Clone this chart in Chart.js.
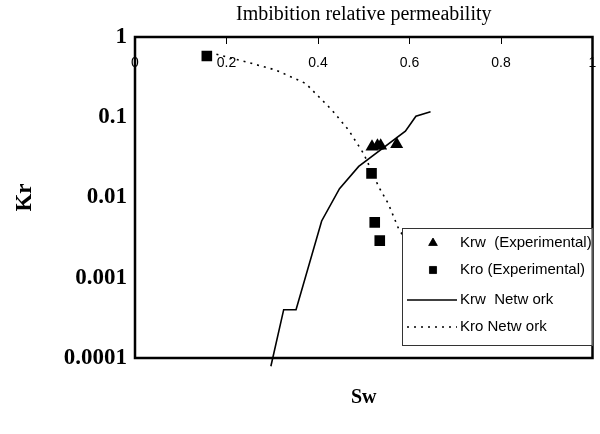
<!DOCTYPE html>
<html>
<head>
<meta charset="utf-8">
<script src="https://cdn.jsdelivr.net/npm/chart.js@4.4.1/dist/chart.umd.min.js"></script>
<style>
    html, body { margin: 0; padding: 0; background: #fff; }
    #wrap { width: 600px; height: 434px; }
</style>
</head>
<body>
<div id="wrap"><canvas id="chart"></canvas></div>
<script>
// values
const krwExpSw = [0.518, 0.530, 0.537, 0.572];
const krwExpKr = [0.043, 0.044, 0.044, 0.046];

const kroExpSw = [0.157, 0.517, 0.524, 0.535];
const kroExpKr = [0.58, 0.020, 0.0049, 0.0029];

const krwNetSw = [0.297, 0.325, 0.352, 0.408, 0.447, 0.489, 0.591, 0.614, 0.646];
const krwNetKr = [0.000079, 0.0004, 0.0004, 0.0051, 0.0129, 0.0244, 0.067, 0.103, 0.117];

const kroNetSw = [0.178, 0.243, 0.308, 0.373, 0.431, 0.467, 0.500, 0.533, 0.554, 0.576, 0.600];
const kroNetKr = [0.61, 0.49, 0.387, 0.264, 0.122, 0.069, 0.035, 0.0135, 0.0083, 0.0041, 0.0025];

const xTicks = [0, 0.2, 0.4, 0.6, 0.8, 1];
const yTicks = [0.0001, 0.001, 0.01, 0.1, 1];

const legendLabels = ['Krw  (Experimental)', 'Kro (Experimental)', 'Krw  Netw ork', 'Kro Netw ork'];

const serif = '"Liberation Serif", "Times New Roman", serif';
const sans = '"Liberation Sans", Arial, sans-serif';

function pts(xs, ys) {
    return xs.map((x, i) => ({ x: x, y: ys[i] }));
}

// frame round the plot area
const framePlugin = {
    id: 'frame',
    afterDatasetsDraw(chart) {
        const a = chart.chartArea;
        const ctx = chart.ctx;
        ctx.save();
        ctx.strokeStyle = '#000';
        ctx.lineWidth = 2.5;
        ctx.strokeRect(a.left, a.top, a.right - a.left, a.bottom - a.top);
        ctx.restore();
    }
};

// boxed legend in the lower right of the plot
const boxLegend = {
    id: 'boxLegend',
    afterDraw(chart) {
        const ctx = chart.ctx;
        const a = chart.chartArea;
        const left = 402, top = 228, right = a.right, bottom = 346;
        ctx.save();
        ctx.fillStyle = '#fff';
        ctx.fillRect(left, top, right - left, bottom - top);
        ctx.strokeStyle = '#333';
        ctx.lineWidth = 1;
        ctx.strokeRect(left + 0.5, top + 0.5, right - left - 1, bottom - top - 1);

        const rows = [243, 270, 300, 327];
        ctx.font = '15px ' + sans;
        ctx.textBaseline = 'middle';
        ctx.fillStyle = '#000';
        chart.data.datasets.forEach((ds, i) => {
            const y = rows[i];
            if (ds.showLine) {
                ctx.beginPath();
                ctx.strokeStyle = '#000';
                ctx.lineWidth = ds.borderWidth;
                ctx.setLineDash(ds.borderDash || []);
                ctx.moveTo(407, y);
                ctx.lineTo(457, y);
                ctx.stroke();
                ctx.setLineDash([]);
            } else {
                Chart.helpers.drawPoint(ctx, { pointStyle: ds.pointStyle, radius: 5, borderWidth: 1, rotation: 0 }, 433, y);
                ctx.fill();
            }
            ctx.fillStyle = '#000';
            ctx.fillText(legendLabels[i], 460, y);
        });
        ctx.restore();
    }
};

const ctx = document.getElementById('chart').getContext('2d');

new Chart(ctx, {
    type: 'scatter',
    data: {
        datasets: [{
            label: legendLabels[0],
            data: pts(krwExpSw, krwExpKr),
            pointStyle: 'triangle',
            pointRadius: 7.5,
            backgroundColor: '#000',
            borderColor: '#000',
            borderWidth: 0,
            showLine: false
        }, {
            label: legendLabels[1],
            data: pts(kroExpSw, kroExpKr),
            pointStyle: 'rect',
            pointRadius: 7.5,
            backgroundColor: '#000',
            borderColor: '#000',
            borderWidth: 0,
            showLine: false
        }, {
            label: legendLabels[2],
            data: pts(krwNetSw, krwNetKr),
            showLine: true,
            pointRadius: 0,
            borderColor: '#000',
            borderWidth: 1.6,
            clip: false
        }, {
            label: legendLabels[3],
            data: pts(kroNetSw, kroNetKr),
            showLine: true,
            pointRadius: 0,
            borderColor: '#000',
            borderWidth: 1.6,
            borderDash: [2, 5]
        }]
    },
    options: {
        responsive: true,
        maintainAspectRatio: false,
        animation: false,
        layout: { padding: { left: 10, right: 2, top: 0, bottom: 0 } },
        plugins: {
            legend: { display: false },
            tooltip: { enabled: false },
            title: {
                display: true,
                fullSize: false,
                text: 'Imbibition relative permeability',
                color: '#000',
                font: { family: serif, size: 20, weight: 'normal' },
                padding: { top: 3, bottom: 9 }
            },
            subtitle: {
                display: true,
                fullSize: false,
                position: 'bottom',
                text: 'Sw',
                color: '#000',
                font: { family: serif, size: 20, weight: 'bold' },
                padding: { top: 28, bottom: 24 }
            }
        },
        scales: {
            x: {
                type: 'linear',
                position: 'top',
                min: 0,
                max: 1,
                afterBuildTicks: scale => { scale.ticks = xTicks.map(v => ({ value: v })); },
                afterFit: scale => {
                    scale.height = 1;
                    scale.paddingLeft = 0;
                    scale.paddingRight = 0;
                },
                ticks: {
                    mirror: true,
                    padding: 18,
                    color: '#000',
                    font: { family: sans, size: 14 },
                    callback: v => String(v)
                },
                grid: { drawOnChartArea: false, tickLength: -7, color: '#000', lineWidth: 1 },
                border: { display: false }
            },
            y: {
                type: 'logarithmic',
                min: 0.0001,
                max: 1,
                afterBuildTicks: scale => { scale.ticks = yTicks.map(v => ({ value: v })); },
                afterFit: scale => { scale.width = 125; },
                ticks: {
                    padding: 8,
                    color: '#000',
                    font: { family: serif, size: 23, weight: 'bold' },
                    callback: v => String(v)
                },
                grid: { display: false, drawTicks: false },
                border: { display: false },
                title: {
                    display: true,
                    text: 'Kr',
                    color: '#000',
                    font: { family: serif, size: 23, weight: 'bold' },
                    padding: { top: 1, bottom: 0 }
                }
            }
        }
    },
    plugins: [framePlugin, boxLegend]
});
</script>
</body>
</html>
